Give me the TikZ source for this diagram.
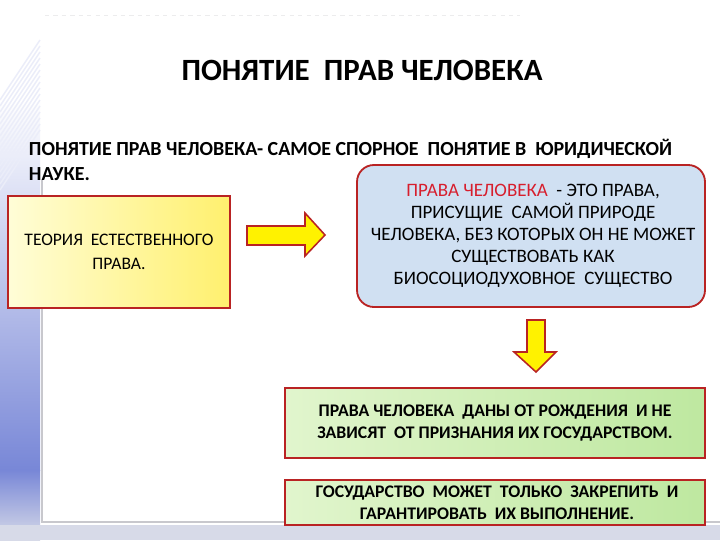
\documentclass[tikz,border=0pt]{standalone}
\usepackage{fontspec}
\setmainfont{Carlito}
\usepackage{xcolor}
\usetikzlibrary{shapes,arrows}
\definecolor{rimred}{RGB}{185,35,35}
\definecolor{termred}{RGB}{215,30,45}
\definecolor{skyfill}{RGB}{208,224,242}
\definecolor{lemonA}{RGB}{255,253,215}
\definecolor{lemonB}{RGB}{255,240,110}
\definecolor{leafA}{RGB}{225,245,205}
\definecolor{leafB}{RGB}{190,232,160}
\definecolor{stripblue}{RGB}{120,135,215}
\definecolor{framegrey}{RGB}{200,200,205}
\definecolor{bandgrey}{RGB}{215,218,232}
\tikzstyle{lemonbox} = [draw=rimred, line width=1.3pt, left color=lemonA, right color=lemonB]
\tikzstyle{skybox} = [draw=rimred, line width=1.3pt, fill=skyfill, rounded corners=12pt]
\tikzstyle{leafbox} = [draw=rimred, line width=1.3pt, left color=leafA, right color=leafB]
\tikzstyle{blockarrow} = [draw=rimred, line width=1.1pt, fill=yellow, line join=miter]

\begin{document}
\begin{tikzpicture}[x=0.025cm, y=-0.025cm]
\useasboundingbox (0,0) rectangle (720,540);
\fill[white] (0,0) rectangle (720,540);
% left strip and frame
\shade[top color=white, bottom color=stripblue] (0,100) rectangle (40,470);
\shade[top color=stripblue, bottom color=bandgrey] (0,470) rectangle (40,540);
\foreach \k in {0,6,...,90} \draw[white!85!stripblue, line width=1pt] (0,\k+100) -- (40,\k+40);
\fill[bandgrey] (0,525) rectangle (720,540);
\draw[framegrey, line width=1pt] (42,180) -- (42,522) -- (720,522);
\draw[framegrey!35, dashed, line width=0.4pt] (45,15) -- (520,15);
%
\node[font=\fontsize{22}{26}\selectfont\bfseries] (title) at (362,70) {ПОНЯТИЕ\ \ ПРАВ ЧЕЛОВЕКА};
\node[anchor=west, align=left, font=\fontsize{14.2}{17.7}\selectfont\bfseries] (lead) at (24,160)
  {ПОНЯТИЕ ПРАВ ЧЕЛОВЕКА- САМОЕ СПОРНОЕ\ \ ПОНЯТИЕ В\ \ ЮРИДИЧЕСКОЙ\\НАУКЕ.};
%
\draw[lemonbox] (8,196) rectangle (230,308);
\node[align=center, font=\fontsize{12.5}{17.5}\selectfont] (theory) at (119,252)
  {ТЕОРИЯ\ \ ЕСТЕСТВЕННОГО\\ПРАВА.};
%
\draw[skybox] (357,165) rectangle (705,307);
\node[align=center, font=\fontsize{13.5}{15.6}\selectfont] (notion) at (533,236)
  {\textcolor{termred}{ПРАВА ЧЕЛОВЕКА}\ \ - ЭТО ПРАВА,\\
   ПРИСУЩИЕ\ \ САМОЙ ПРИРОДЕ\\
   ЧЕЛОВЕКА, БЕЗ КОТОРЫХ ОН НЕ МОЖЕТ\\
   СУЩЕСТВОВАТЬ КАК\\
   БИОСОЦИОДУХОВНОЕ\ \ СУЩЕСТВО};
%
\draw[leafbox] (285,388) rectangle (705,458);
\node[align=center, font=\fontsize{12.6}{16.3}\selectfont\bfseries] (birth) at (495,423)
  {ПРАВА ЧЕЛОВЕКА\ \ ДАНЫ ОТ РОЖДЕНИЯ\ \ И НЕ\\
   ЗАВИСЯТ\ \ ОТ ПРИЗНАНИЯ ИХ ГОСУДАРСТВОМ.};
\draw[leafbox] (285,480) rectangle (705,525);
\node[align=center, font=\fontsize{12.6}{15.6}\selectfont\bfseries] (state) at (497,503)
  {ГОСУДАРСТВО\ \ МОЖЕТ\ \ ТОЛЬКО\ \ ЗАКРЕПИТЬ\ \ И\\
   ГАРАНТИРОВАТЬ\ \ ИХ ВЫПОЛНЕНИЕ.};
%
\draw[blockarrow] (247,226) -- (305,226) -- (305,213) -- (325,235) -- (305,256) -- (305,245) -- (247,245) -- cycle;
\draw[blockarrow] (527,320) -- (545,320) -- (545,352) -- (556,352) -- (536,372) -- (514,352) -- (527,352) -- cycle;
\end{tikzpicture}
\end{document}
